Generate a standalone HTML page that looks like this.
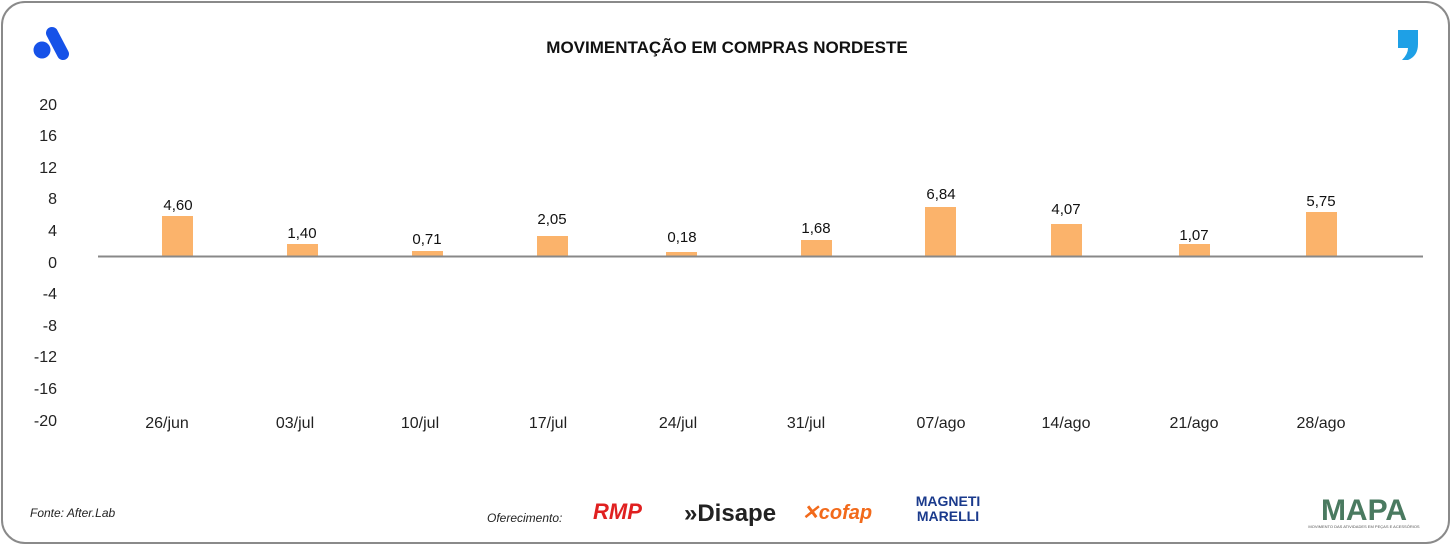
<!DOCTYPE html>
<html><head><meta charset="utf-8"><style>
body{margin:0;width:1455px;height:549px;background:#fff;font-family:"Liberation Sans",sans-serif;overflow:hidden}
.frame{position:absolute;left:1px;top:1px;width:1449px;height:543px;border:2px solid #8a8a8a;border-radius:24px;box-sizing:border-box}
</style></head><body>
<div class="frame"></div>
<svg width="1455" height="549" style="position:absolute;left:0;top:0" font-family="Liberation Sans, sans-serif">
<circle cx="42" cy="50" r="8.5" fill="#1652e8"/>
<line x1="52" y1="33" x2="63" y2="54" stroke="#1652e8" stroke-width="12" stroke-linecap="round"/>
<text x="727" y="53" text-anchor="middle" font-size="17" font-weight="bold" fill="#111">MOVIMENTAÇÃO EM COMPRAS NORDESTE</text>
<path d="M1398 30h20v14q0 12-10 16h-6q6-6 6-12h-10z" fill="#1ea0e6"/>
<g font-size="16" fill="#222" text-anchor="end">
<text x="57" y="110">20</text><text x="57" y="141">16</text><text x="57" y="173">12</text><text x="57" y="204">8</text><text x="57" y="236">4</text><text x="57" y="268">0</text><text x="57" y="299">-4</text><text x="57" y="331">-8</text><text x="57" y="362">-12</text><text x="57" y="394">-16</text><text x="57" y="426">-20</text>
</g>
<g fill="#fbb36b">
<rect x="162" y="216" width="31" height="40"/>
<rect x="287" y="244" width="31" height="12"/>
<rect x="412" y="251" width="31" height="5"/>
<rect x="537" y="236" width="31" height="20"/>
<rect x="666" y="252" width="31" height="4"/>
<rect x="801" y="240" width="31" height="16"/>
<rect x="925" y="207" width="31" height="49"/>
<rect x="1051" y="224" width="31" height="32"/>
<rect x="1179" y="244" width="31" height="12"/>
<rect x="1306" y="212" width="31" height="44"/>
</g>
<line x1="98" y1="256.5" x2="1423" y2="256.5" stroke="#888" stroke-width="2"/>
<g font-size="15" fill="#111" text-anchor="middle">
<text x="178" y="210">4,60</text><text x="302" y="238">1,40</text><text x="427" y="244">0,71</text><text x="552" y="224">2,05</text><text x="682" y="242">0,18</text><text x="816" y="233">1,68</text><text x="941" y="199">6,84</text><text x="1066" y="214">4,07</text><text x="1194" y="240">1,07</text><text x="1321" y="206">5,75</text>
</g>
<g font-size="16" fill="#222" text-anchor="middle">
<text x="167" y="428">26/jun</text><text x="295" y="428">03/jul</text><text x="420" y="428">10/jul</text><text x="548" y="428">17/jul</text><text x="678" y="428">24/jul</text><text x="806" y="428">31/jul</text><text x="941" y="428">07/ago</text><text x="1066" y="428">14/ago</text><text x="1194" y="428">21/ago</text><text x="1321" y="428">28/ago</text>
</g>
<text x="30" y="517" font-size="12" font-style="italic" fill="#222">Fonte: After.Lab</text>
<text x="487" y="522" font-size="12" font-style="italic" fill="#222">Oferecimento:</text>
<text x="593" y="519" font-size="22" font-weight="bold" font-style="italic" fill="#e02020">RMP</text>
<text x="684" y="521" font-size="24" font-weight="bold" fill="#222">»Disape</text>
<text x="802" y="519" font-size="20" font-weight="bold" font-style="italic" fill="#f26a1b">✕cofap</text>
<text x="948" y="506" font-size="14" font-weight="bold" fill="#1a3a8c" text-anchor="middle">MAGNETI</text>
<text x="948" y="521" font-size="14" font-weight="bold" fill="#1a3a8c" text-anchor="middle">MARELLI</text>
<text x="1364" y="520" font-size="30" font-weight="bold" fill="#4a7a60" text-anchor="middle">MAPA</text>
<text x="1364" y="528" font-size="4" fill="#555" text-anchor="middle">MOVIMENTO DAS ATIVIDADES EM PEÇAS E ACESSÓRIOS</text>
</svg>
</body></html>
